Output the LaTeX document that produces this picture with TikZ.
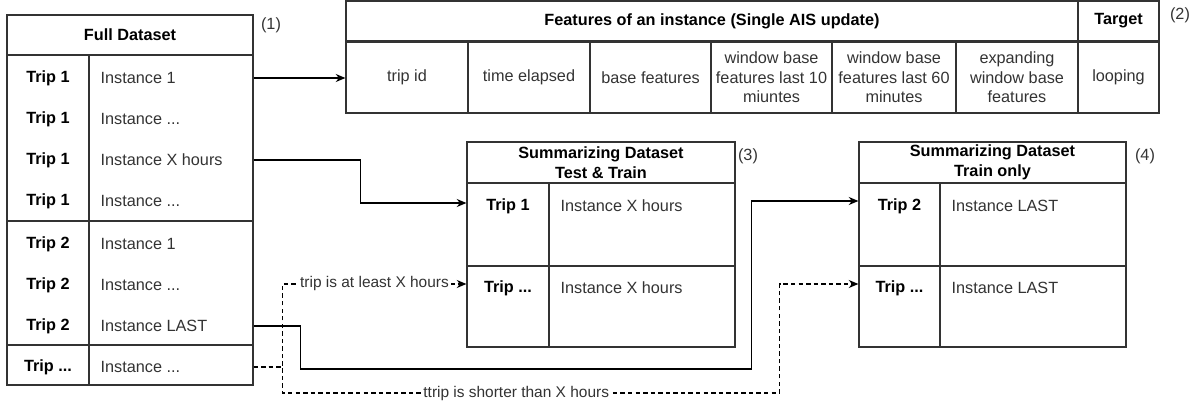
\documentclass[tikz,border=0pt]{standalone}
\usepackage{fontspec}
\setmainfont{Liberation Sans}
\usetikzlibrary{arrows.meta}

\newcommand{\px}{0.02cm}
\newcommand{\dts}{...}
\definecolor{linegray}{HTML}{333333}
\definecolor{txtgray}{HTML}{333333}

\begin{document}
\begin{tikzpicture}[x=0.02cm,y=-0.02cm,line width=0.7pt,
  font=\fontsize{9.25}{11.1}\selectfont,
  cell/.style args={#1/#2}{draw=linegray, inner sep=0pt,
    minimum width=(#1)*\px, minimum height=(#2)*\px},
  head/.style={font=\fontsize{9.25}{11.1}\selectfont\bfseries, text=black},
  trip/.style={font=\fontsize{9.25}{11.1}\selectfont\bfseries, text=black, inner sep=0pt},
  inst/.style={anchor=west, text=txtgray, inner sep=0pt},
  num/.style={text=txtgray, inner sep=0pt},
  lbl/.style={fill=white, text=txtgray, inner sep=1pt, font=\fontsize{8.8}{10}\selectfont},
  arr/.style={draw=black, -{Stealth[length=5.5pt,width=4.6pt]}},
  dsh/.style={arr, dash pattern=on 2.5pt off 1.8pt}]
  \useasboundingbox (0,0) rectangle (1196,405);

  % (1) full dataset
  \node[cell={246/40}, head] (fd-h) at (130,35) {Full Dataset};
  \node[cell={82/166}]  (fd-g1l) at (48,138) {};
  \node[cell={164/166}] (fd-g1r) at (171,138) {};
  \node[cell={82/124}]  (fd-g2l) at (48,283) {};
  \node[cell={164/124}] (fd-g2r) at (171,283) {};
  \node[cell={82/40}]   (fd-g3l) at (48,365) {};
  \node[cell={164/40}]  (fd-g3r) at (171,365) {};
  \foreach \yy/\tn [count=\i] in {78/1,119/1,160/1,201/1,244/2,285/2,326/2,367/\dts}
    \node[trip] (fd-t\i) at (48,\yy) {Trip \tn};
  \foreach \yy/\lbl [count=\i] in {78/1,119/\dts,160/X hours,201/\dts,244/1,285/\dts,326/LAST,367/\dts}
    \node[inst] (fd-i\i) at (100,\yy) {Instance \lbl};
  \node[num] (n1) at (271,25) {(1)};

  % (2) features of one instance
  \node[cell={732/40}, head] (f-h) at (712,21) {Features of an instance (Single AIS update)};
  \node[cell={81/40}, head] (f-th) at (1118.5,21) {Target};
  \foreach \xa/\xb/\nm/\txt in {346/468/trip/{trip id}, 468/590/time/{time elapsed},
      590/711/base/{base features}, 711/832/w10/{window base\\features last 10\\miuntes},
      832/956/w60/{window base\\features last 60\\minutes},
      956/1078/exp/{expanding\\window base\\features}, 1078/1159/loop/{looping}}
    \node[cell={\xb-\xa/71}, align=center, text=txtgray] (f-\nm) at ({(\xa+\xb)/2},77.5) {\txt};
  \node[num] (n2) at (1180,15) {(2)};

  % (3) summarizing dataset, test & train
  \node[cell={268/41}, head, align=center] (st-h) at (601,162.5) {Summarizing Dataset\\Test \& Train};
  \node[cell={82/83}]  (st-r1l) at (508,224.5) {};
  \node[cell={186/83}] (st-r1r) at (642,224.5) {};
  \node[cell={82/81}]  (st-r2l) at (508,306.5) {};
  \node[cell={186/81}] (st-r2r) at (642,306.5) {};
  \node[trip] (st-t1) at (508,206) {Trip 1};
  \node[inst] (st-i1) at (560,206) {Instance X hours};
  \node[trip] (st-t2) at (508,288) {Trip \dts};
  \node[inst] (st-i2) at (560,288) {Instance X hours};
  \node[num] (n3) at (748,156) {(3)};

  % (4) summarizing dataset, train only
  \node[cell={267/41}, head, align=center] (so-h) at (992.5,162.5) {Summarizing Dataset\\Train only};
  \node[cell={81/83}]  (so-r1l) at (899.5,224.5) {};
  \node[cell={186/83}] (so-r1r) at (1033,224.5) {};
  \node[cell={81/81}]  (so-r2l) at (899.5,306.5) {};
  \node[cell={186/81}] (so-r2r) at (1033,306.5) {};
  \node[trip] (so-t1) at (899.5,206) {Trip 2};
  \node[inst] (so-i1) at (951,206) {Instance LAST};
  \node[trip] (so-t2) at (899.5,288) {Trip \dts};
  \node[inst] (so-i2) at (951,288) {Instance LAST};
  \node[num] (n4) at (1145,156) {(4)};

  % connectors
  \draw[arr] (fd-g1r.east |- fd-i1) -- (f-trip.west |- fd-i1);
  \draw[arr] (fd-g1r.east |- fd-i3) -- ++(107,0) |- (st-r1l.west |- 0,203);
  \draw[arr] (fd-g2r.east |- fd-i7) -- ++(47,0) -- ++(0,43) -- ++(451,0) |- (so-r1l.west |- 0,201);
  \draw[dsh] (fd-g3r.east |- fd-i8) -- ++(29,0) |- node[lbl, pos=0.75] {trip is at least X hours}
    (st-r2l.west |- 0,284);
  \draw[dsh] (fd-g3r.east |- fd-i8) -- ++(29,0) -- ++(0,26)
    -- node[lbl, pos=0.47] {ttrip is shorter than X hours} ++(497,0) |- (so-r2l.west |- 0,284);
\end{tikzpicture}
\end{document}
